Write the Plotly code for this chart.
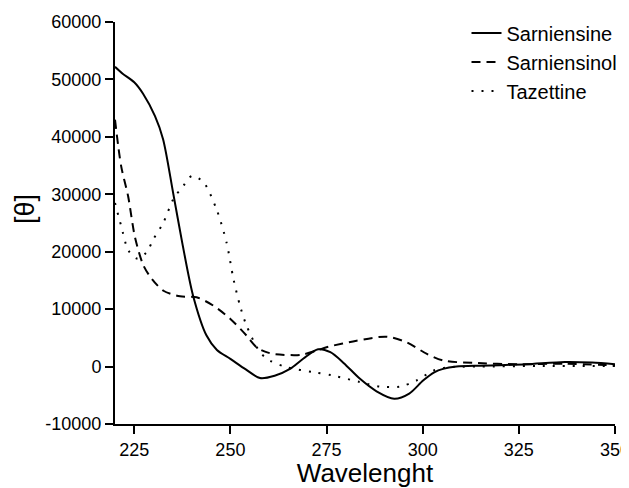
import plotly.graph_objects as go

# Sarniensine (solid)
sar_x = [220, 222, 225, 227.3, 230.4, 232.5, 235.1, 237.5, 240.3, 243.8, 246.5, 250, 254, 257.7, 261.5, 265.5, 269, 272.8, 276, 279.5, 283.7, 288, 292.6, 296.5, 300.1, 303, 305.3, 308.8, 315, 320, 327, 337, 344, 350]
sar_y = [52200, 51000, 49500, 47500, 43600, 39600, 30300, 21500, 12350, 5400, 2900, 1340, -500, -2000, -1600, -400, 1400, 3000, 2500, 600, -2140, -4300, -5600, -4700, -2430, -1000, -400, 0, 150, 250, 400, 800, 700, 400]

# Sarniensinol (dashed)
sol_x = [220, 221.6, 223.4, 225.2, 227.4, 229.6, 232.6, 236.9, 241.2, 245.6, 250, 254.2, 256.8, 259, 261.2, 268.1, 272.4, 275, 282.8, 290.6, 295.8, 301.1, 305.4, 313.2, 325, 337, 350]
sol_y = [43000, 34900, 29700, 22500, 17600, 15250, 13200, 12240, 12070, 10600, 8300, 5400, 3370, 2600, 2200, 2030, 2780, 3370, 4500, 5200, 4240, 2200, 1040, 640, 400, 500, 200]

# Tazettine (dotted)
taz_x = [220, 221.6, 223.5, 225.8, 228.2, 230, 232.6, 235.2, 237.8, 240, 243, 246.4, 249, 250.8, 252.5, 254.2, 257.7, 260.3, 264.6, 271.5, 276.7, 283.7, 288.9, 294.1, 298.4, 302.8, 307.1, 315, 330, 350]
taz_y = [28500, 24500, 20200, 18800, 19900, 22200, 25100, 29200, 31500, 33200, 32100, 27400, 21600, 15250, 10600, 7130, 2500, 1040, -100, -970, -1560, -2700, -3480, -3480, -2430, -700, -100, 0, 100, 100]

y_ticks = [-10000, 0, 10000, 20000, 30000, 40000, 50000, 60000]
y_ticktext = [str(v) for v in y_ticks]
x_ticks = [225, 250, 275, 300, 325, 350]

FONT = "Arial, 'Liberation Sans', sans-serif"
fig = go.Figure()
fig.add_trace(go.Scatter(x=sar_x, y=sar_y, mode="lines", name="Sarniensine",
                         line=dict(color="black", width=2, shape="spline", smoothing=0.8)))
fig.add_trace(go.Scatter(x=sol_x, y=sol_y, mode="lines", name="Sarniensinol",
                         line=dict(color="black", width=2, dash="9px,6px", shape="spline", smoothing=0.8)))
fig.add_trace(go.Scatter(x=taz_x, y=taz_y, mode="lines", name="Tazettine",
                         line=dict(color="black", width=2, dash="2px,8px", shape="spline", smoothing=0.8)))

fig.update_layout(
    width=621, height=480,
    margin=dict(l=107, r=14, t=14, b=64, autoexpand=False),
    plot_bgcolor="white", paper_bgcolor="white",
    font=dict(family=FONT, color="black"),
    showlegend=True,
    legend=dict(x=0.703, y=1.021, xanchor="left", yanchor="top",
                font=dict(size=20, family=FONT, color="black"),
                bgcolor="rgba(0,0,0,0)", tracegroupgap=0),
    xaxis=dict(range=[220, 350], tickvals=x_ticks, showgrid=False, zeroline=False,
               showline=True, linecolor="black", linewidth=2, automargin=False,
               ticks="outside", ticklen=8, tickwidth=2, tickcolor="black",
               ticklabeloverflow="allow",
               tickfont=dict(size=18, family=FONT, color="black"),
               title=dict(text="Wavelenght", font=dict(size=26, family=FONT, color="black"), standoff=5)),
    yaxis=dict(range=[-10000, 60000], tickvals=y_ticks, ticktext=y_ticktext,
               showgrid=False, zeroline=False, automargin=False,
               showline=True, linecolor="black", linewidth=2,
               ticks="outside", ticklen=8, tickwidth=2, tickcolor="black",
               tickfont=dict(size=18, family=FONT, color="black")),
    annotations=[dict(text="[θ]", xref="paper", yref="paper", x=-0.18, y=0.535,
                      xanchor="center", yanchor="middle", textangle=-90, showarrow=False,
                      font=dict(size=27, family=FONT, color="black"))],
)
fig.write_html("out.html")
